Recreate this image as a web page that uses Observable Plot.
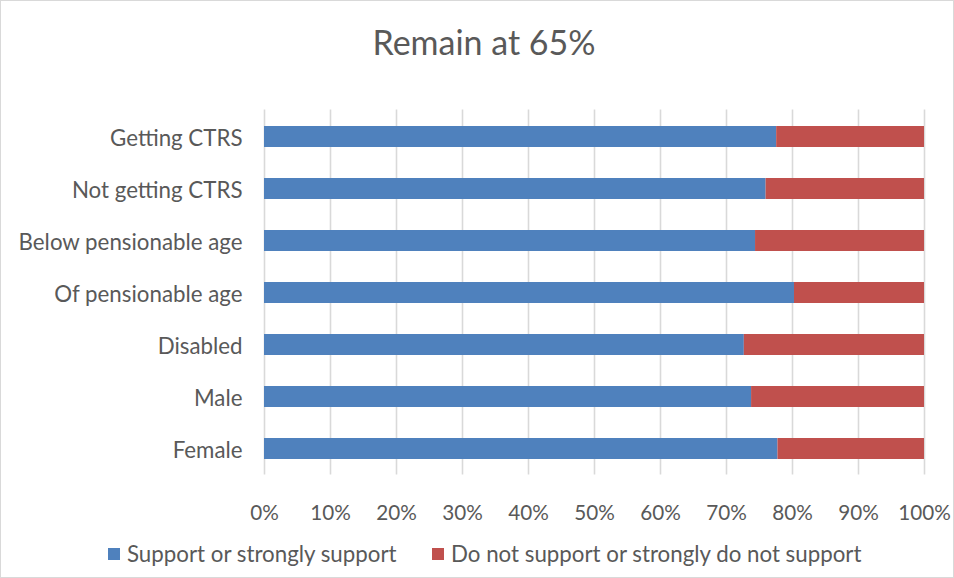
<!DOCTYPE html>
<html>
<head>
<meta charset="utf-8">
<script src="https://cdn.jsdelivr.net/npm/d3@7"></script>
<script src="https://cdn.jsdelivr.net/npm/@observablehq/plot@0.6"></script>
<style>
  body { margin: 0; background: #fff; }
  #chart { width: 954px; height: 578px; box-sizing: border-box; border: 1px solid #d9d9d9; font-family: Lato, "Open Sans", sans-serif; color: #595959; overflow: hidden; }
  #title { height: 75px; padding-top: 5px; padding-left: 14px; line-height: 72px; text-align: center; font-size: 34px; font-weight: 400; box-sizing: content-box; }
  #title { height: 75px; }
  #legend { position: relative; height: 46px; font-size: 22.3px; }
  .item { position: absolute; top: 10px; display: flex; align-items: center; line-height: 26px; }
  .sw { width: 12px; height: 12px; margin-right: 7px; }
</style>
</head>
<body>
<div id="chart">
  <div id="title">Remain at 65%</div>
  <div id="plot"></div>
  <div id="legend"></div>
</div>
<script>
const categories = ["Getting CTRS", "Not getting CTRS", "Below pensionable age", "Of pensionable age", "Disabled", "Male", "Female"];
const series = ["Support or strongly support", "Do not support or strongly do not support"];
const colors = ["#4F81BD", "#C0504D"];
const support = [77.6, 76.0, 74.4, 80.3, 72.7, 73.8, 77.8];
const notSupport = support.map(v => +(100 - v).toFixed(1));
const xTicks = [0, 10, 20, 30, 40, 50, 60, 70, 80, 90, 100];

const rows = [];
categories.forEach((c, i) => {
  rows.push({category: c, series: series[0], value: support[i]});
  rows.push({category: c, series: series[1], value: notSupport[i]});
});

const chart = Plot.plot({
  width: 952,
  height: 450,
  marginLeft: 263,
  marginRight: 29,
  marginTop: 28.4,
  marginBottom: 56.4,
  style: {fontFamily: "Lato, 'Open Sans', sans-serif", fontSize: "20px", color: "#595959", overflow: "visible"},
  x: {domain: [0, 100], ticks: xTicks, tickFormat: d => d + "%", label: null, tickSize: 0, tickPadding: 30},
  y: {domain: categories, label: null, tickSize: 0, tickPadding: 22, paddingInner: 0.6, paddingOuter: 0.3},
  color: {domain: series, range: colors},
  marks: [
    Plot.gridX(xTicks, {stroke: "#d9d9d9", strokeOpacity: 1, strokeWidth: 1.6}),
    Plot.barX(rows, {x: "value", y: "category", fill: "series", order: series}),
    Plot.axisX({ticks: xTicks, tickFormat: d => d + "%", tickSize: 0, tickPadding: 30, fontSize: 20.7, label: null}),
    Plot.axisY({tickSize: 0, tickPadding: 22, fontSize: 22.3, label: null, dy: 2})
  ]
});
document.getElementById("plot").appendChild(chart);

const legend = document.getElementById("legend");
const lefts = [107, 431];
series.forEach((s, i) => {
  const it = document.createElement("div");
  it.className = "item";
  it.style.left = lefts[i] + "px";
  it.innerHTML = `<div class="sw" style="background:${colors[i]}"></div><span>${s}</span>`;
  legend.appendChild(it);
});
</script>
</body>
</html>
